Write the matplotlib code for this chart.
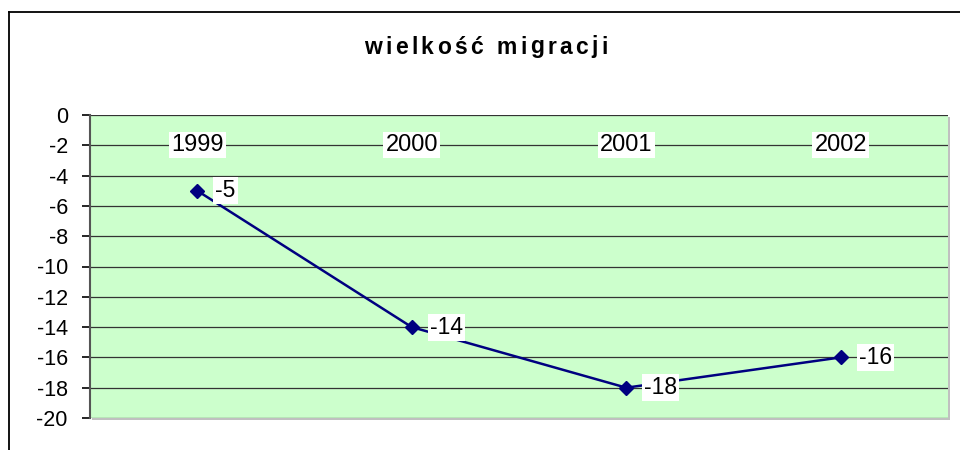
import matplotlib
matplotlib.use("Agg")
import matplotlib.pyplot as plt
from matplotlib.patches import Rectangle
from matplotlib.lines import Line2D

years = ["1999", "2000", "2001", "2002"]
values = [-5, -14, -18, -16]
yticks = [0, -2, -4, -6, -8, -10, -12, -14, -16, -18, -20]
title = "wielkość migracji"

plt.rcParams['font.family'] = ['Liberation Sans', 'DejaVu Sans']

fig = plt.figure(figsize=(9.6, 4.5), dpi=100)
W, H = 960, 450
ax = fig.add_axes([90 / W, 1 - 418 / H, (948 - 90) / W, (418 - 115) / H])

# outer frame (left and top visible)
fig.add_artist(Line2D([9 / W, 9 / W], [0, 1 - 12 / H], color='black', lw=1.3, transform=fig.transFigure))
fig.add_artist(Line2D([9 / W, 1], [1 - 12 / H, 1 - 12 / H], color='black', lw=1.3, transform=fig.transFigure))

# shadow of plot area
fig.add_artist(Rectangle((92 / W, 1 - 420 / H), (948 - 90) / W, (418 - 115) / H,
                         facecolor='#c0c0c0', edgecolor='none', transform=fig.transFigure, zorder=0))

ax.set_facecolor('#CCFFCC')
ax.set_zorder(1)
x = list(range(len(years)))
ax.set_xlim(-0.5, len(years) - 0.5)
ax.set_ylim(-20, 0)
ax.set_yticks(yticks)
ax.set_yticklabels([str(v) for v in yticks], fontsize=15.5)
ax.set_xticks([])
for v in yticks:
    ax.axhline(v, color='#333333', lw=0.9, zorder=1)
for s in ['top', 'right']:
    ax.spines[s].set_visible(False)
ax.spines['left'].set_color('#555555')
ax.spines['left'].set_linewidth(1.5)
ax.spines['bottom'].set_visible(False)
ax.tick_params(axis='y', length=6, width=1.2, color='black', pad=10)

ax.plot(x, values, color='#000080', lw=1.8, marker='D', markersize=7, zorder=3)

for xi, yr in zip(x, years):
    ax.text(xi, -2, yr, ha='center', va='center', fontsize=17,
            bbox=dict(facecolor='white', edgecolor='none', pad=1.5), zorder=4)
for xi, v in zip(x, values):
    ax.annotate(str(v), (xi, v), xytext=(13, 0), textcoords='offset points',
                ha='left', va='center', fontsize=16.5,
                bbox=dict(facecolor='white', edgecolor='none', pad=1.5), zorder=4)

# title with letter spacing
fig.canvas.draw()
renderer = fig.canvas.get_renderer()
spacing = 3.3
fs = 16.5
widths = []
for ch in title:
    t = fig.text(0, 0, ch if ch != ' ' else 'n', fontsize=fs, fontweight='bold')
    bb = t.get_window_extent(renderer)
    w = bb.width if ch != ' ' else bb.width * 0.55
    t.remove()
    widths.append(w)
total = sum(widths) + spacing * (len(title) - 1)
xpos = 486 - total / 2
for ch, w in zip(title, widths):
    if ch != ' ':
        fig.text(xpos / W, 1 - 47 / H, ch, ha='left', va='center', fontsize=fs, fontweight='bold')
    xpos += w + spacing

fig.savefig('out.png', dpi=100)
